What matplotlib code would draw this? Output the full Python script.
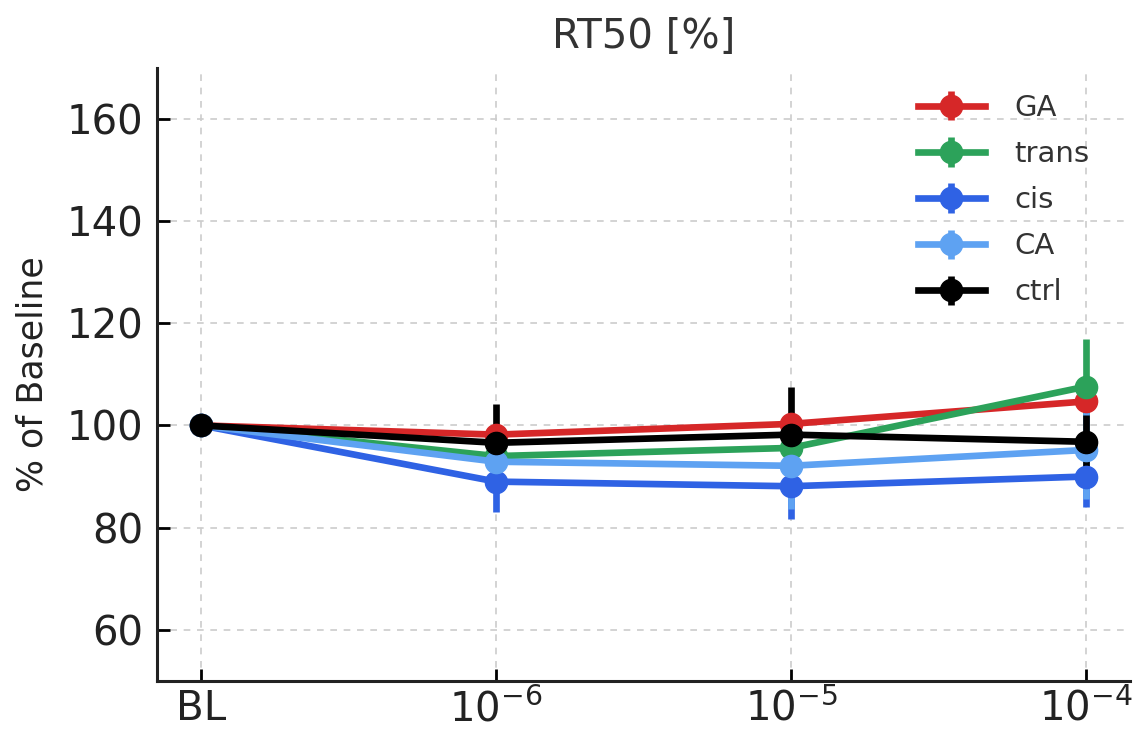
import numpy as np
import matplotlib
matplotlib.use("Agg")
import matplotlib.pyplot as plt

# concentration steps (BL = baseline)
doses = ["BL", r"$10^{-6}$", r"$10^{-5}$", r"$10^{-4}$"]
groups = ["GA", "trans", "cis", "CA", "ctrl"]
colors = ["#d62728", "#2ca25a", "#2f62e4", "#5ea2f2", "#000000"]

# mean RT50 as % of baseline, and error
ga_mean = [100.0, 98.2, 100.3, 104.7]
ga_err = [0.0, 2.0, 2.0, 2.5]
trans_mean = [100.0, 94.0, 95.6, 107.6]
trans_err = [0.0, 2.0, 2.5, 9.4]
cis_mean = [100.0, 89.0, 88.1, 90.0]
cis_err = [0.0, 6.0, 6.5, 5.9]
ca_mean = [100.0, 92.9, 92.1, 95.2]
ca_err = [0.0, 3.5, 8.4, 9.6]
ctrl_mean = [100.0, 96.6, 98.2, 96.8]
ctrl_err = [0.0, 7.6, 9.4, 5.2]

means = [ga_mean, trans_mean, cis_mean, ca_mean, ctrl_mean]
errs = [ga_err, trans_err, cis_err, ca_err, ctrl_err]

fig = plt.figure(figsize=(11.38, 7.29), dpi=100)
ax = fig.add_axes([0.138, 0.066, 0.855, 0.841])

x = np.arange(len(doses))
for name, m, e, c in zip(groups, means, errs, colors):
    ax.errorbar(x, m, yerr=e, color=c, lw=4.8, elinewidth=4.8, capsize=0,
                marker="o", markersize=16, label=name)

ax.set_xlim(-0.15, 3.15)
ax.set_ylim(50, 170)
ax.set_xticks(x)
ax.set_xticklabels(doses)
ax.set_yticks([60, 80, 100, 120, 140, 160])

ax.grid(True, linestyle=(0, (4, 4)), color="#cccccc", lw=1.2)
ax.set_axisbelow(True)
for s in ["top", "right"]:
    ax.spines[s].set_visible(False)
for s in ["left", "bottom"]:
    ax.spines[s].set_linewidth(2.2)
    ax.spines[s].set_color("#222222")
ax.tick_params(direction="in", length=9, width=2, labelsize=29,
               labelcolor="#222222", pad=10)
ax.tick_params(axis="x", pad=6)

ax.set_title("RT50 [%]", fontsize=29, color="#333333", pad=14)
ax.set_ylabel("% of Baseline", fontsize=25, color="#222222", labelpad=12)

ax.legend(loc="upper right", frameon=False, fontsize=21, handlelength=2.3,
          labelspacing=0.62, handletextpad=1.0, labelcolor="#333333",
          bbox_to_anchor=(0.985, 1.0))

fig.savefig("out.png", dpi=100)
